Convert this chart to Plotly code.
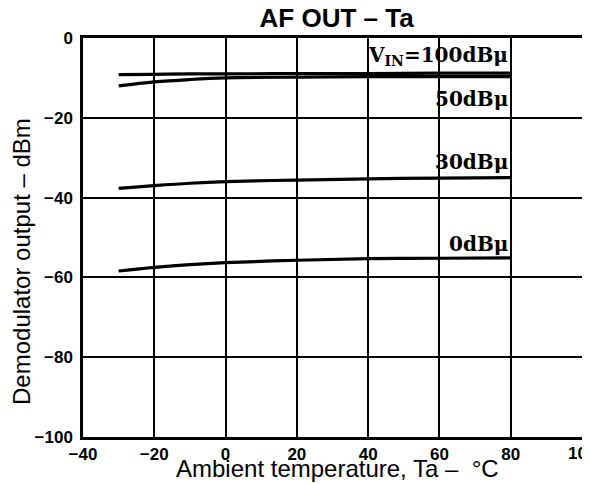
import plotly.graph_objects as go

temps = [-30, -20, -10, 0, 20, 40, 60, 80]
v100 = [-9.2, -9.1, -9.0, -9.0, -8.9, -8.9, -8.8, -8.8]
v50 = [-12.0, -11.0, -10.4, -10.0, -9.8, -9.7, -9.7, -9.7]
v30 = [-37.7, -37.0, -36.4, -36.0, -35.6, -35.3, -35.1, -35.0]
v0 = [-58.4, -57.5, -56.8, -56.3, -55.7, -55.3, -55.2, -55.1]

series_names = ["100dBμ", "50dBμ", "30dBμ", "0dBμ"]
series_vals = [v100, v50, v30, v0]
label_texts = ["V<sub>IN</sub>=100dBμ", "50dBμ", "30dBμ", "0dBμ"]
label_y = [-4.4, -15.2, -31.0, -51.7]

x_ticks = [-40, -20, 0, 20, 40, 60, 80, 100]
x_ticktext = ["−40", "−20", "0", "20", "40", "60", "80", "100"]
y_ticks = [0, -20, -40, -60, -80, -100]
y_ticktext = ["0", "−20", "−40", "−60", "−80", "−100"]

fig = go.Figure()
for name, vals in zip(series_names, series_vals):
    fig.add_trace(go.Scatter(x=temps, y=vals, mode="lines", name=name,
                             line=dict(color="black", width=3.2, shape="spline"),
                             showlegend=False))

for txt, yy in zip(label_texts, label_y):
    fig.add_annotation(x=80, y=yy, text="<b>" + txt + "</b>", showarrow=False, xanchor="right",
                       yanchor="middle",
                       font=dict(family="DejaVu Serif", size=20, color="black"),
                       xshift=-1)

# tick label at the far right edge (drawn as annotation so it is not hidden)
fig.add_annotation(x=x_ticks[-1], y=0, xref="x", yref="paper", text="<b>" + x_ticktext[-1] + "</b>",
                   showarrow=False, xanchor="center", yanchor="top", yshift=-5,
                   font=dict(family="Liberation Sans", size=17, color="black"))

# x axis title
fig.add_annotation(x=0.511, y=-0.079, xref="paper", yref="paper",
                   text="Ambient temperature, Ta –  °C", showarrow=False,
                   xanchor="center", yanchor="middle",
                   font=dict(family="Liberation Sans", size=24, color="black"))

# y axis title
fig.add_annotation(x=-0.122, y=0.439, xref="paper", yref="paper",
                   text="Demodulator output – dBm", showarrow=False, textangle=-90,
                   xanchor="center", yanchor="middle",
                   font=dict(family="Liberation Sans", size=24, color="black"))

fig.update_layout(
    width=590, height=484,
    margin=dict(l=75, r=16, t=30, b=55, autoexpand=False),
    paper_bgcolor="white", plot_bgcolor="white",
    title=dict(text="<b>AF OUT – Ta</b>", x=0.557, xanchor="center", y=0.980, yanchor="middle",
               font=dict(family="Liberation Sans", size=26, color="black")),
    xaxis=dict(range=[-40, 100], tickvals=x_ticks[:-1], ticktext=x_ticktext[:-1],
               showgrid=True, gridcolor="black", gridwidth=1.6,
               showline=True, linecolor="black", linewidth=2.5, mirror=True,
               zeroline=False, ticks="",
               tickfont=dict(family="Liberation Sans", size=17, color="black", weight="bold")),
    yaxis=dict(range=[-100, 0], tickvals=y_ticks, ticktext=y_ticktext,
               showgrid=True, gridcolor="black", gridwidth=1.6,
               showline=True, linecolor="black", linewidth=2.5, mirror=True,
               zeroline=False, ticks="", ticklabelstandoff=4,
               tickfont=dict(family="Liberation Sans", size=17, color="black", weight="bold")),
)

fig.write_html("out.html")
